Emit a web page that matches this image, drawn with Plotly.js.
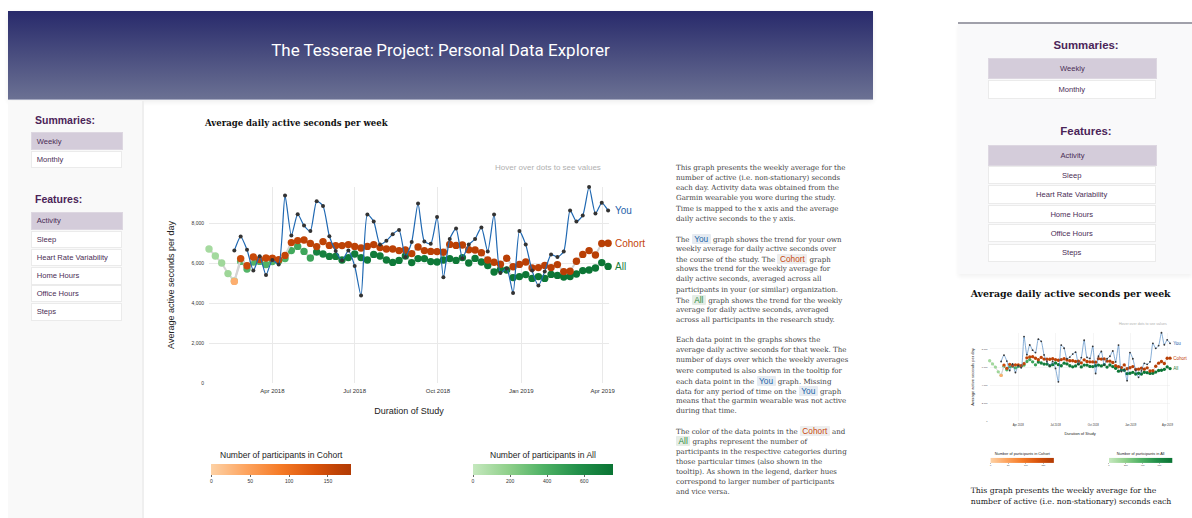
<!DOCTYPE html>
<html><head><meta charset="utf-8">
<script src="https://cdn.plot.ly/plotly-3.0.1.min.js"></script>
<style>
html,body{margin:0;padding:0;width:1192px;height:518px;overflow:hidden;background:#fff;font-family:"Liberation Sans",Arial,sans-serif;}
.abs{position:absolute;}
#header{left:8px;top:11px;width:865px;height:88px;background:linear-gradient(#282a6b,#6b7193);border-bottom:1.5px solid #a4a8bf;box-shadow:0 2px 5px rgba(0,0,0,0.07);}
#htitle{position:absolute;left:0;right:0;top:29px;text-align:center;color:#fff;line-height:20px;white-space:nowrap;font-family:Roboto,"Liberation Sans",sans-serif;font-weight:400;}
#htitle span{display:inline-block;font-size:18px;}
#side{left:8px;top:100.5px;width:134px;height:418px;background:#f9f9f9;border-right:2px solid #efefef;}
.head{color:#4b2458;font-weight:bold;white-space:nowrap;line-height:14px;}
.btn{box-sizing:border-box;border:1px solid #ebebeb;background:#fff;color:#4a2d55;white-space:nowrap;display:flex;align-items:center;}
.btn.sel{background:#d4ccda;border-color:#ddd7e1;}
#rpanel{left:958px;top:22px;width:234px;height:250px;background:#f9f9fa;border-top:2px solid #a0a0aa;box-shadow:0 3px 4px rgba(0,0,0,0.05);}
.serif{font-family:"DejaVu Serif","Liberation Serif",serif;}
.ln{white-space:nowrap;display:block;}
.ln span.w{display:inline-block;}
.pill{font-family:"Liberation Sans",Arial,sans-serif;font-size:8.3px;padding:0 2.5px;border-radius:1px;}
.pY{color:#2064a8;background:#e6ebf1;}
.pC{color:#c9480c;background:#eeeeee;}
.pA{color:#2a8a3e;background:#e6ede6;}
#para{left:676px;top:163px;color:#3f3f3f;}
#para .ln{line-height:10.15px;height:10.15px;}
#para .gap{height:10px;}
</style></head>
<body>
<div id="header" class="abs"><div id="htitle"><span id="htspan">The Tesserae Project: Personal Data Explorer</span></div></div>
<div id="side" class="abs"></div>
<div id="rpanel" class="abs"></div>
<div id="ctitle" class="abs serif" style="left:205px;top:114px;font-weight:bold;color:#111;white-space:nowrap;line-height:14px;"><span id="ctspan" style="display:inline-block;font-size:10px;">Average daily active seconds per week</span></div>
<div id="main" class="abs" style="left:150px;top:150px;width:500px;height:370px;"></div>
<div id="para" class="abs serif"></div>
<div id="rtitle" class="abs serif" style="left:970.7px;top:284px;font-weight:bold;color:#111;white-space:nowrap;line-height:16px;"><span id="rtspan" style="display:inline-block;font-size:11px;">Average daily active seconds per week</span></div>
<div id="mini" class="abs" style="left:962.8px;top:316.2px;width:500px;height:370px;transform-origin:0 0;"></div>
<div id="rtext" class="abs serif" style="left:970.7px;top:485px;color:#222;line-height:11px;"></div>
<script>
// ---------------- data ----------------
const weeks = ["2018-01-21","2018-01-28","2018-02-04","2018-02-11","2018-02-18","2018-02-25","2018-03-04","2018-03-11","2018-03-18","2018-03-25",
"2018-04-01","2018-04-08","2018-04-15","2018-04-22","2018-04-29","2018-05-06","2018-05-13","2018-05-20","2018-05-27","2018-06-03",
"2018-06-10","2018-06-17","2018-06-24","2018-07-01","2018-07-08","2018-07-15","2018-07-22","2018-07-29","2018-08-05","2018-08-12",
"2018-08-19","2018-08-26","2018-09-02","2018-09-09","2018-09-16","2018-09-23","2018-09-30","2018-10-07","2018-10-14","2018-10-21",
"2018-10-28","2018-11-04","2018-11-11","2018-11-18","2018-11-25","2018-12-02","2018-12-09","2018-12-16","2018-12-23","2018-12-30",
"2019-01-06","2019-01-13","2019-01-20","2019-01-27","2019-02-03","2019-02-10","2019-02-17","2019-02-24","2019-03-03","2019-03-10",
"2019-03-17","2019-03-24","2019-03-31","2019-04-07"];
const youSeconds = [null,null,null,null,6620,7320,6660,5620,6340,5400,
6150,5920,9370,7370,8440,7870,7600,9090,8850,7340,
6600,6120,6620,5850,4370,8430,8080,6920,7110,7440,
7650,6300,7050,8970,7080,6960,8300,5290,7200,7720,
6240,6920,7200,7780,6570,8430,5500,5730,4500,7600,
6920,5620,4870,5580,6420,6300,6580,8630,8070,8380,
9800,8470,9010,8630];
const cohortSeconds = [null,null,null,null,5080,6220,5860,6300,6170,6250,
6240,6160,6380,7020,7120,7150,6980,6820,7070,6880,
6870,6870,6920,6830,6750,6830,6920,6770,6700,6700,
6620,6650,6470,6800,6620,6580,6570,6540,6930,6880,
6900,6660,6650,6510,6150,6040,5940,6240,5810,5930,
6050,5750,5770,5880,5770,5920,5570,5590,6090,6430,
6620,6400,6975,6990];
const allSeconds = [6700,6350,6000,5470,5100,6080,5700,6050,6080,5920,
6070,6100,6220,6620,6830,6580,6250,6550,6450,6330,
6330,6150,6270,6450,6270,6150,6430,6350,6150,6030,
6130,6350,6020,6220,6220,6070,6050,6150,6220,6130,
6270,6000,6230,6050,5870,5550,5670,5650,5270,5320,
5420,5230,5320,5230,5430,5380,5300,5320,5450,5620,
5650,5750,6020,5830];
const cohortParticipants = [null,null,null,null,35,148,150,152,154,155,
156,157,158,160,161,162,162,163,163,164,
164,165,165,165,166,166,166,166,166,166,
167,167,167,167,168,168,168,168,168,168,
169,169,169,169,169,169,170,170,170,170,
170,170,170,170,170,170,170,170,170,170,
171,171,171,172];
const allParticipants = [110,120,130,140,150,360,365,370,372,375,
378,380,385,430,440,450,460,660,670,680,
690,695,700,700,705,705,710,710,710,712,
715,715,718,720,720,720,722,722,725,725,
725,728,728,730,730,730,730,732,732,735,
735,735,738,738,740,740,740,742,742,745,
745,745,748,750];
const seriesNames = ["You","Cohort","All"];
const yTicks = [0,2000,4000,6000,8000];
const cohortTicks = [0,50,100,150];
const allTicks = [0,200,400,600];
const summaries = ["Weekly","Monthly"];
const features = ["Activity","Sleep","Heart Rate Variability","Home Hours","Office Hours","Steps"];

// ---------------- page widgets ----------------
function fitW(el, w){ const r = el.getBoundingClientRect().width; const fs = parseFloat(getComputedStyle(el).fontSize); el.style.fontSize = (fs*w/r)+'px'; }
function addText(parent, txt, css, cls){ const d=document.createElement('div'); d.className='abs '+(cls||''); d.textContent=txt; d.style.cssText+=css; parent.appendChild(d); return d; }

const body = document.body;
addText(body,"Summaries:","left:35px;top:113px;font-size:10.5px;","head");
addText(body,"Features:","left:35px;top:192.3px;font-size:10.5px;","head");
const lsTop=[132.3,151], lsH=[17.7,17.3];
summaries.forEach((s,i)=>{ addText(body,s,`left:30.7px;top:${lsTop[i]}px;height:${lsH[i]}px;width:${i==0?92.6:91}px;font-size:7.6px;padding-left:5px;box-sizing:border-box;`,'btn'+(i==0?' sel':'')); });
const lfTop=[211.7,231,249,267.3,285,303.3];
features.forEach((s,i)=>{ addText(body,s,`left:30.7px;top:${lfTop[i]}px;height:${i==0?18.3:17.4}px;width:${i==0?92.6:91}px;font-size:7.6px;padding-left:5px;box-sizing:border-box;`,'btn'+(i==0?' sel':'')); });

addText(body,"Summaries:","left:1086px;top:37.7px;font-size:11.4px;transform:translateX(-50%);","head");
addText(body,"Features:","left:1086px;top:124px;font-size:11.4px;transform:translateX(-50%);","head");
const rsTop=[58.3,80], rsH=[20.7,18.7];
summaries.forEach((s,i)=>{ addText(body,s,`left:987.7px;top:${rsTop[i]}px;height:${rsH[i]}px;width:${i==0?169.6:168}px;font-size:7.6px;justify-content:center;`,'btn'+(i==0?' sel':'')); });
const rfTop=[144.7,166.3,185.3,205,224.3,243.7], rfH=[21,18,18.4,18.3,18,18.3];
features.forEach((s,i)=>{ addText(body,s,`left:987.7px;top:${rfTop[i]}px;height:${rfH[i]}px;width:${i==0?169.6:168}px;font-size:7.6px;justify-content:center;`,'btn'+(i==0?' sel':'')); });

const paras = [
 ["This graph presents the weekly average for the","number of active (i.e. non-stationary) seconds","each day. Activity data was obtained from the","Garmin wearable you wore during the study.","Time is mapped to the x axis and the average","daily active seconds to the y axis."],
 ["The {Y} graph shows the trend for your own","weekly average for daily active seconds over","the course of the study. The {C} graph","shows the trend for the weekly average for","daily active seconds, averaged across all","participants in your (or similar) organization.","The {A} graph shows the trend for the weekly","average for daily active seconds, averaged","across all participants in the research study."],
 ["Each data point in the graphs shows the","average daily active seconds for that week. The","number of days over which the weekly averages","were computed is also shown in the tooltip for","each data point in the {Y} graph. Missing","data for any period of time on the {Y} graph","means that the garmin wearable was not active","during that time."],
 ["The color of the data points in the {C} and","{A} graphs represent the number of","participants in the respective categories during","those particular times (also shown in the","tooltip). As shown in the legend, darker hues","correspond to larger number of participants","and vice versa."]
];
const pillHtml = {Y:`<span class="pill pY">${seriesNames[0]}</span>`, C:`<span class="pill pC">${seriesNames[1]}</span>`, A:`<span class="pill pA">${seriesNames[2]}</span>`};
const para = document.getElementById('para');
para.style.fontSize='10px';
paras.forEach((p,pi)=>{ p.forEach(l=>{ const d=document.createElement('div'); d.className='ln'; d.innerHTML = '<span class="w">'+l.replace(/\{(Y|C|A)\}/g,(m,k)=>pillHtml[k])+'</span>'; para.appendChild(d); }); if(pi<paras.length-1){const g=document.createElement('div'); g.className='gap'; para.appendChild(g);} });
(function(){ const first = para.querySelector('.w'); const w = first.getBoundingClientRect().width; para.style.fontSize = (10*170/w)+'px'; })();

const rtext = document.getElementById('rtext');
rtext.style.fontSize='10px';
["This graph presents the weekly average for the","number of active (i.e. non-stationary) seconds each"].forEach(l=>{const d=document.createElement('div'); d.className='ln'; d.innerHTML='<span class="w">'+l+'</span>'; rtext.appendChild(d);});
(function(){ const first = rtext.querySelector('.w'); const w = first.getBoundingClientRect().width; rtext.style.fontSize = (10*186/w)+'px'; })();

fitW(document.getElementById('htspan'),339);
fitW(document.getElementById('ctspan'),183);
fitW(document.getElementById('rtspan'),200);

// ---------------- chart ----------------
const orangeScale = [[0,'#fdd1a5'],[0.25,'#fda45f'],[0.5,'#f57a26'],[0.75,'#d9530b'],[0.9,'#bf4306'],[1,'#b23b04']];
const greenScale = [[0,'#c5e8be'],[0.25,'#90d08b'],[0.5,'#4fb265'],[0.75,'#22904a'],[1,'#0a7434']];
const FONT = 'Liberation Sans, Arial, sans-serif';
const lastX = weeks[weeks.length-1];

function cbar(x, ticks){
  return {orientation:'h', x:x, xanchor:'center', y:-0.4117, yanchor:'top', len:140, lenmode:'pixels',
    thickness:11, outlinewidth:0, xpad:0, ypad:0,
    tickvals:ticks, ticks:'outside', ticklen:2, tickcolor:'#666', tickfont:{size:5, color:'#333', family:FONT}};
}

function buildChart(id){
  const traces = [
    {x:weeks, y:allSeconds, name:seriesNames[2], type:'scatter', mode:'lines+markers', cliponaxis:false,
     line:{color:'#d4d4d4', width:2},
     marker:{size:7.4, color:allParticipants, colorscale:greenScale, cmin:0, cmax:755, line:{width:0}, colorbar:cbar(0.835, allTicks)}},
    {x:weeks, y:cohortSeconds, name:seriesNames[1], type:'scatter', mode:'lines+markers', cliponaxis:false,
     line:{color:'#d4d4d4', width:2},
     marker:{size:7.4, color:cohortParticipants, colorscale:orangeScale, cmin:0, cmax:180, line:{width:0}, colorbar:cbar(0.1808, cohortTicks)}},
    {x:weeks, y:youSeconds, name:seriesNames[0], type:'scatter', mode:'lines+markers', cliponaxis:false,
     line:{color:'#1f68b2', width:1.2, shape:'spline', smoothing:0.6},
     marker:{size:4, color:'#333'}}
  ];
  const layout = {
    width:500, height:370, margin:{l:59.4, r:40.7, t:37.3, b:136.7},
    paper_bgcolor:'rgba(0,0,0,0)', plot_bgcolor:'rgba(0,0,0,0)',
    showlegend:false, font:{family:FONT, color:'#333'},
    xaxis:{type:'date', range:['2018-01-21','2019-04-08'], tickformat:'%b %Y', dtick:'M3', tick0:'2018-01-01',
      showgrid:true, gridcolor:'#e9e9e9', gridwidth:1, zeroline:false, showline:false, ticks:'', ticklabelstandoff:3,
      tickfont:{size:6, color:'#333', family:FONT},
      title:{text:'Duration of Study', font:{size:9, color:'#222', family:FONT}, standoff:14}},
    yaxis:{range:[0,9800], tickvals:yTicks, tickformat:',', showgrid:true, gridcolor:'#e9e9e9', zeroline:false, showline:false, ticks:'', ticklabelstandoff:4,
      tickfont:{size:5, color:'#333', family:FONT},
      title:{text:'Average active seconds per day', font:{size:9, color:'#222', family:FONT}, standoff:15}},
    annotations:[
      {xref:'paper', yref:'paper', x:0.847, y:1.102, xanchor:'center', yanchor:'middle', text:'Hover over dots to see values', showarrow:false, font:{size:8, color:'#b0b0b0', family:FONT}},
      {xref:'paper', yref:'paper', x:0.1808, y:-0.3658, xanchor:'center', yanchor:'middle', text:'Number of participants in Cohort', showarrow:false, font:{size:8.5, color:'#222', family:FONT}},
      {xref:'paper', yref:'paper', x:0.835, y:-0.3658, xanchor:'center', yanchor:'middle', text:'Number of participants in All', showarrow:false, font:{size:8.5, color:'#222', family:FONT}},
      {x:lastX, y:youSeconds[youSeconds.length-1], text:seriesNames[0], showarrow:false, xanchor:'left', xshift:5, font:{size:10, color:'#1f62aa', family:FONT}},
      {x:lastX, y:cohortSeconds[cohortSeconds.length-1], text:seriesNames[1], showarrow:false, xanchor:'left', xshift:5, font:{size:10, color:'#c4430a', family:FONT}},
      {x:lastX, y:allSeconds[allSeconds.length-1], text:seriesNames[2], showarrow:false, xanchor:'left', xshift:5, font:{size:10, color:'#1b7d3c', family:FONT}}
    ]
  };
  return Plotly.newPlot(id, traces, layout, {displayModeBar:false, staticPlot:true});
}
buildChart('main');
buildChart('mini').then(()=>{ document.getElementById('mini').style.transform='scale(0.452)'; });
</script>
</body></html>
